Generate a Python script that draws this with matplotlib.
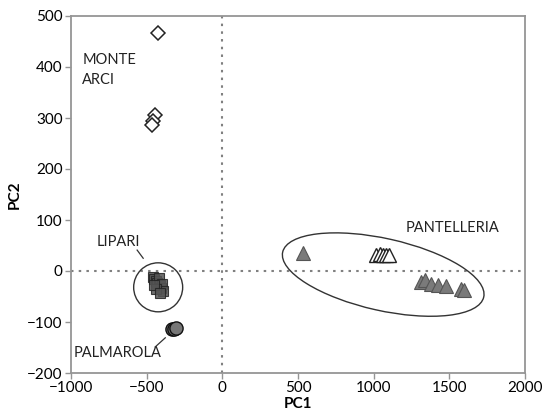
import matplotlib
matplotlib.use("Agg")
import matplotlib.pyplot as plt
from matplotlib.patches import Ellipse
from matplotlib.transforms import ScaledTranslation

plt.rcParams['font.family'] = ['Lato', 'DejaVu Sans']

# Data
monte_arci_pc1 = [-424, -444, -457, -464]
monte_arci_pc2 = [467, 306, 294, 286]

lipari_pc1 = [-460, -450, -440, -430, -420, -412, -405, -398, -392, -440, -452, -415]
lipari_pc2 = [-12, -16, -20, -24, -14, -28, -33, -26, -40, -36, -28, -44]

palmarola_pc1 = [-331, -322, -308]
palmarola_pc2 = [-114, -113, -111]

pant_filled_pc1 = [536, 1311, 1340, 1377, 1424, 1477, 1580, 1595]
pant_filled_pc2 = [35, -21, -18, -25, -28, -30, -35, -37]

pant_open_pc1 = [1013, 1040, 1060, 1080, 1100]
pant_open_pc2 = [32, 33, 32, 32, 31]

x_ticks = [-1000, -500, 0, 500, 1000, 1500, 2000]
y_ticks = [-200, -100, 0, 100, 200, 300, 400, 500]

fig = plt.figure(figsize=(5.43, 4.15), dpi=100)
ax = fig.add_axes([71/543, 1-373/415, 454/543, 357/415])

ax.set_xlim(-1000, 2000)
ax.set_ylim(-200, 500)
ax.set_xticks(x_ticks)
ax.set_yticks(y_ticks)

spine_col = '#959595'
for s in ax.spines.values():
    s.set_color(spine_col)
    s.set_linewidth(1.3)
ax.tick_params(axis='both', direction='out', length=4, width=1.0, color=spine_col,
               labelsize=11, labelcolor='black', pad=2)
ax.tick_params(axis='x', top=False)
ax.tick_params(axis='y', right=False)

ax.axhline(0, color='#808080', linestyle=(0, (1.2, 2.5)), linewidth=1.5, zorder=1)
ax.axvline(0, color='#808080', linestyle=(0, (1.2, 2.5)), linewidth=1.5, zorder=1)

# Monte Arci
ax.plot(monte_arci_pc1, monte_arci_pc2, linestyle='none', marker='D', markersize=7,
        markerfacecolor='white', markeredgecolor='#222222', markeredgewidth=1.1, zorder=3)
# Lipari
ax.plot(lipari_pc1, lipari_pc2, linestyle='none', marker='s', markersize=7.5,
        markerfacecolor='#555555', markeredgecolor='#222222', markeredgewidth=0.8,
        alpha=0.85, zorder=3)
# Palmarola
ax.plot(palmarola_pc1, palmarola_pc2, linestyle='none', marker='o', markersize=9.5,
        markerfacecolor='#777777', markeredgecolor='#111111', markeredgewidth=1.0, zorder=3)
# Pantelleria
ax.plot(pant_filled_pc1, pant_filled_pc2, linestyle='none', marker='^', markersize=10,
        markerfacecolor='#7a7a7a', markeredgecolor='#555555', markeredgewidth=0.8, zorder=3)
ax.plot(pant_open_pc1, pant_open_pc2, linestyle='none', marker='^', markersize=10,
        markerfacecolor='white', markeredgecolor='#222222', markeredgewidth=1.0, zorder=3)

# Grouping outlines (sizes in inches, anchored at data centres)
lip_tr = fig.dpi_scale_trans + ScaledTranslation(-424, -32, ax.transData)
ax.add_patch(Ellipse((0, 0), 0.49, 0.49, fill=False, edgecolor='#333333',
                     linewidth=1.0, transform=lip_tr, zorder=4))
pan_tr = fig.dpi_scale_trans + ScaledTranslation(1063, -7, ax.transData)
ax.add_patch(Ellipse((0, 0), 2.06, 0.72, angle=-12.6, fill=False, edgecolor='#333333',
                     linewidth=1.0, transform=pan_tr, zorder=4))

txt_kw = dict(fontsize=10.5, color='#222222')
ax.text(-925, 414, 'MONTE', va='center', ha='left', **txt_kw)
ax.text(-925, 375, 'ARCI', va='center', ha='left', **txt_kw)
ax.text(1212, 84, 'PANTELLERIA', va='center', ha='left', **txt_kw)
ax.text(-828, 57, 'LIPARI', va='center', ha='left', **txt_kw)
ax.text(-980, -161, 'PALMAROLA', va='center', ha='left', **txt_kw)
ax.plot([-563, -523], [41, 25], color='#333333', linewidth=0.9, zorder=4)
ax.plot([-444, -377], [-149, -131], color='#333333', linewidth=0.9, zorder=4)

ax.set_xlabel('PC1', fontsize=11, fontweight='bold', labelpad=1)
ax.set_ylabel('PC2', fontsize=11, fontweight='bold', labelpad=4)

fig.savefig('out.png', dpi=100)
